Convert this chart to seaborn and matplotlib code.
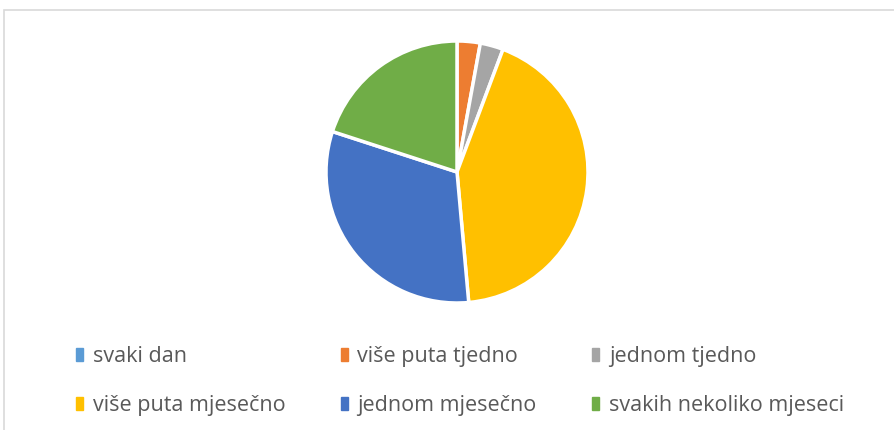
import matplotlib.pyplot as plt
import matplotlib.patches as mpatches
import seaborn as sns

labels = ["svaki dan", "više puta tjedno", "jednom tjedno",
          "više puta mjesečno", "jednom mjesečno", "svakih nekoliko mjeseci"]
values = [0, 1, 1, 15, 11, 7]
colors = ["#5B9BD5", "#ED7D31", "#A5A5A5", "#FFC000", "#4472C4", "#70AD47"]

sns.set_theme(style="white")
plt.rcParams['font.family'] = ['Open Sans', 'DejaVu Sans']

fig = plt.figure(figsize=(8.94, 4.30), dpi=100)

# chart area border (light gray, cut off at right/bottom like the source)
fig.patches.append(mpatches.Rectangle((4/894, -0.1), 1.2, (430-10)/430 + 0.1,
                                      transform=fig.transFigure, fill=False,
                                      edgecolor="#D9D9D9", linewidth=1.2))

ax = fig.add_axes([326/894, 127/430, 262/894, 262/430])
ax.pie(values, colors=colors, startangle=90, counterclock=False,
       wedgeprops=dict(edgecolor="white", linewidth=2.5))
ax.set_xlim(-1, 1)
ax.set_ylim(-1, 1)
ax.axis("off")

# legend row-wise: reorder for matplotlib's column fill
order = [0, 3, 1, 4, 2, 5]
handles = [mpatches.Patch(color=colors[i], label=labels[i]) for i in order]
leg = fig.legend(handles=handles, ncol=3, loc="center left",
                 bbox_to_anchor=(57/894, 1 - 381/430), frameon=False,
                 fontsize=15.5, handlelength=0.3, handleheight=0.55,
                 handletextpad=0.45, columnspacing=2.6, labelspacing=1.3)
for t in leg.get_texts():
    t.set_color("#595959")

fig.savefig("out.png", dpi=100)
